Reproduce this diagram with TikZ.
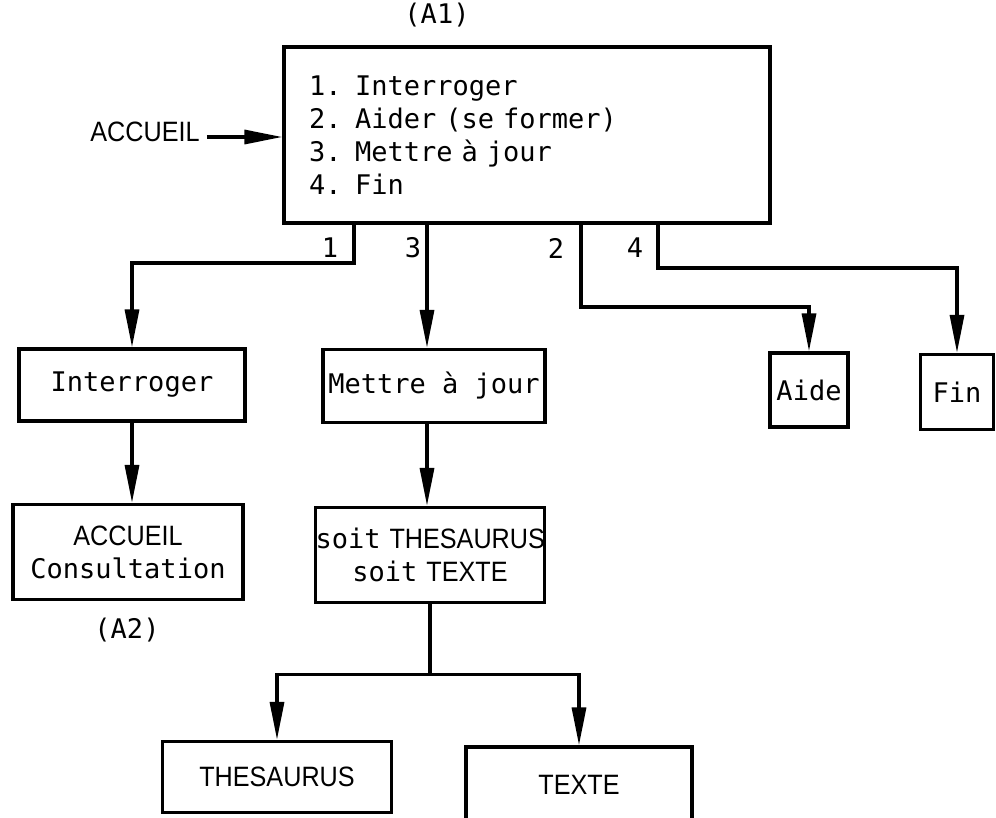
\documentclass[tikz,border=0pt]{standalone}
\usepackage{fontspec}
\newfontfamily\dmono{DejaVu Sans Mono}
\newfontfamily\lsans[FakeStretch=0.9]{Liberation Sans}
\usetikzlibrary{arrows.meta}
\newcommand{\boxtxt}{\dmono\fontsize{27}{33}\selectfont}
\newcommand{\captxt}{\lsans\fontsize{28}{34}\selectfont}

\begin{document}
\begin{tikzpicture}[
  x=1pt, y=-1pt,
  box/.style={draw, line width=3.3pt, inner sep=0pt, align=center, font=\boxtxt},
  ar/.style={line width=3.3pt, -{Triangle[length=38pt,width=14pt]}},
  ln/.style={line width=3.3pt},
  lab/.style={inner sep=0pt, font=\boxtxt},
  caplab/.style={inner sep=0pt, font=\captxt}
]
\useasboundingbox (0,0) rectangle (996,817);
\fill[white] (0,0) rectangle (996,817);
% menu box
\node[box, align=left, text width=436pt, inner xsep=25pt, minimum height=176pt] (A1) at (527,135)
  {1. Interroger\\2. Aider (se former)\\3. Mettre à jour\\4. Fin};
\node[lab] (A1lab) at (437,15) {(A1)};
\node[caplab] (accueil) at (145,132) {ACCUEIL};
% second row
\node[box, minimum width=226pt, minimum height=72pt] (interr) at (132,385) {Interroger};
\node[box, minimum width=222pt, minimum height=73pt] (mettre) at (434,386) {Mettre à jour};
\node[box, minimum width=78pt, minimum height=74pt] (aide) at (809,390) {Aide};
\node[box, minimum width=73pt, minimum height=75pt] (fin) at (957,392) {Fin};
% third row
\node[box, minimum width=230pt, minimum height=95pt] (consult) at (128,552)
  {{\captxt ACCUEIL}\\Consultation};
\node[lab] (A2lab) at (127,630) {(A2)};
\node[box, text width=229pt, minimum height=95pt] (soit) at (430,555)
  {\mbox{soit {\captxt THESAURUS}}\\soit {\captxt TEXTE}};
% last row
\node[box, font=\captxt, minimum width=229pt, minimum height=71pt] (thes) at (277,777) {THESAURUS};
\node[box, font=\captxt, minimum width=226pt, minimum height=76pt] (texte) at (579,785) {TEXTE};
% exits of the menu
\coordinate (o1) at (354,222);
\coordinate (o3) at (427,222);
\coordinate (o2) at (581,222);
\coordinate (o4) at (658,222);
\node[lab] (l1) at (330,248) {1};
\node[lab] (l3) at (413,248) {3};
\node[lab] (l2) at (556,248) {2};
\node[lab] (l4) at (635,248) {4};
\draw[ar] ([xshift=7pt,yshift=-5pt]accueil.east) coordinate (entry) -- (entry -| A1.west);
\draw[ar] (o1) -- ++(0,41) -| (interr.north);
\draw[ar] (o3) -- (o3 |- mettre.north);
\draw[ar] (o2) -- ++(0,85) -| (aide.north);
\draw[ar] (o4) -- ++(0,46) -| (fin.north);
\draw[ar] (interr.south) -- (interr.south |- consult.north);
\draw[ar] (o3 |- mettre.south) -- (o3 |- soit.north);
\draw[ln] (soit.south) -- ++(0,70) coordinate (split);
\draw[ar] (split) -| (thes.north);
\draw[ar] (split) -| (texte.north);
\end{tikzpicture}
\end{document}
